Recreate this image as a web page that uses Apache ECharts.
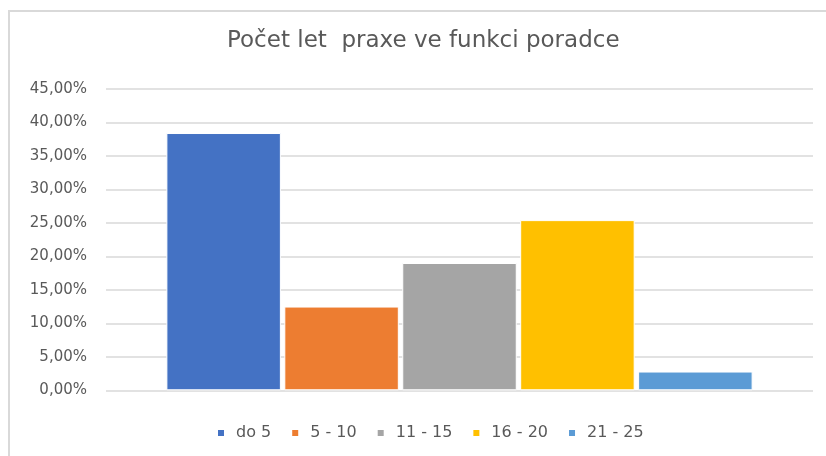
<!DOCTYPE html>
<html>
<head>
<meta charset="utf-8">
<script src="https://cdn.jsdelivr.net/npm/echarts@6/dist/echarts.min.js"></script>
<style>
  html, body { margin: 0; padding: 0; background: #fff; }
  #wrap { position: relative; width: 826px; height: 456px; overflow: hidden; }
  #chart { width: 826px; height: 456px; }
  #frame {
    position: absolute; left: 8px; top: 10px; width: 900px; height: 500px;
    border-left: 2px solid #d9d9d9; border-top: 2px solid #d9d9d9;
    pointer-events: none;
  }
</style>
</head>
<body>
<div id="wrap">
  <div id="chart"></div>
  <div id="frame"></div>
</div>
<script>
const titleText = 'Počet let  praxe ve funkci poradce';
const seriesNames = ['do 5', '5 - 10', '11 - 15', '16 - 20', '21 - 25'];
const seriesValues = [38.4, 12.5, 19.0, 25.4, 2.8];
const seriesColors = ['#4472c4', '#ed7d31', '#a5a5a5', '#ffc000', '#5b9bd5'];

const font = '"DejaVu Sans", sans-serif';
const textColor = '#595959';

const chart = echarts.init(document.getElementById('chart'));

const series = seriesNames.map((name, i) => ({
  name: name,
  type: 'bar',
  data: [seriesValues[i]],
  barWidth: 114.5,
  barGap: '3%',
  itemStyle: {
    color: seriesColors[i],
    borderColor: '#ffffff',
    borderWidth: 1
  },
  emphasis: { disabled: true }
}));

chart.setOption({
  animation: false,
  backgroundColor: '#fff',
  title: {
    text: titleText,
    left: 222,
    top: 25,
    textStyle: {
      fontFamily: font,
      fontSize: 23,
      fontWeight: 'normal',
      color: textColor
    }
  },
  legend: {
    data: seriesNames,
    left: 211,
    top: 420,
    itemWidth: 8,
    itemHeight: 8,
    itemGap: 19,
    icon: 'rect',
    textStyle: {
      fontFamily: font,
      fontSize: 16,
      color: textColor,
      padding: [0, 0, 0, 6]
    }
  },
  grid: {
    left: 106,
    right: 13,
    top: 88.8,
    bottom: 65.7
  },
  xAxis: {
    type: 'category',
    data: [''],
    axisLine: { show: false },
    axisTick: { show: false },
    axisLabel: { show: false }
  },
  yAxis: {
    type: 'value',
    min: 0,
    max: 45,
    interval: 5,
    axisLine: { show: false },
    axisTick: { show: false },
    axisLabel: {
      margin: 19,
      fontFamily: font,
      fontSize: 15,
      color: textColor,
      formatter: (v) => v.toFixed(2).replace('.', ',') + '%'
    },
    splitLine: { lineStyle: { color: '#d9d9d9', width: 1.5 } }
  },
  series: series
});
</script>
</body>
</html>
